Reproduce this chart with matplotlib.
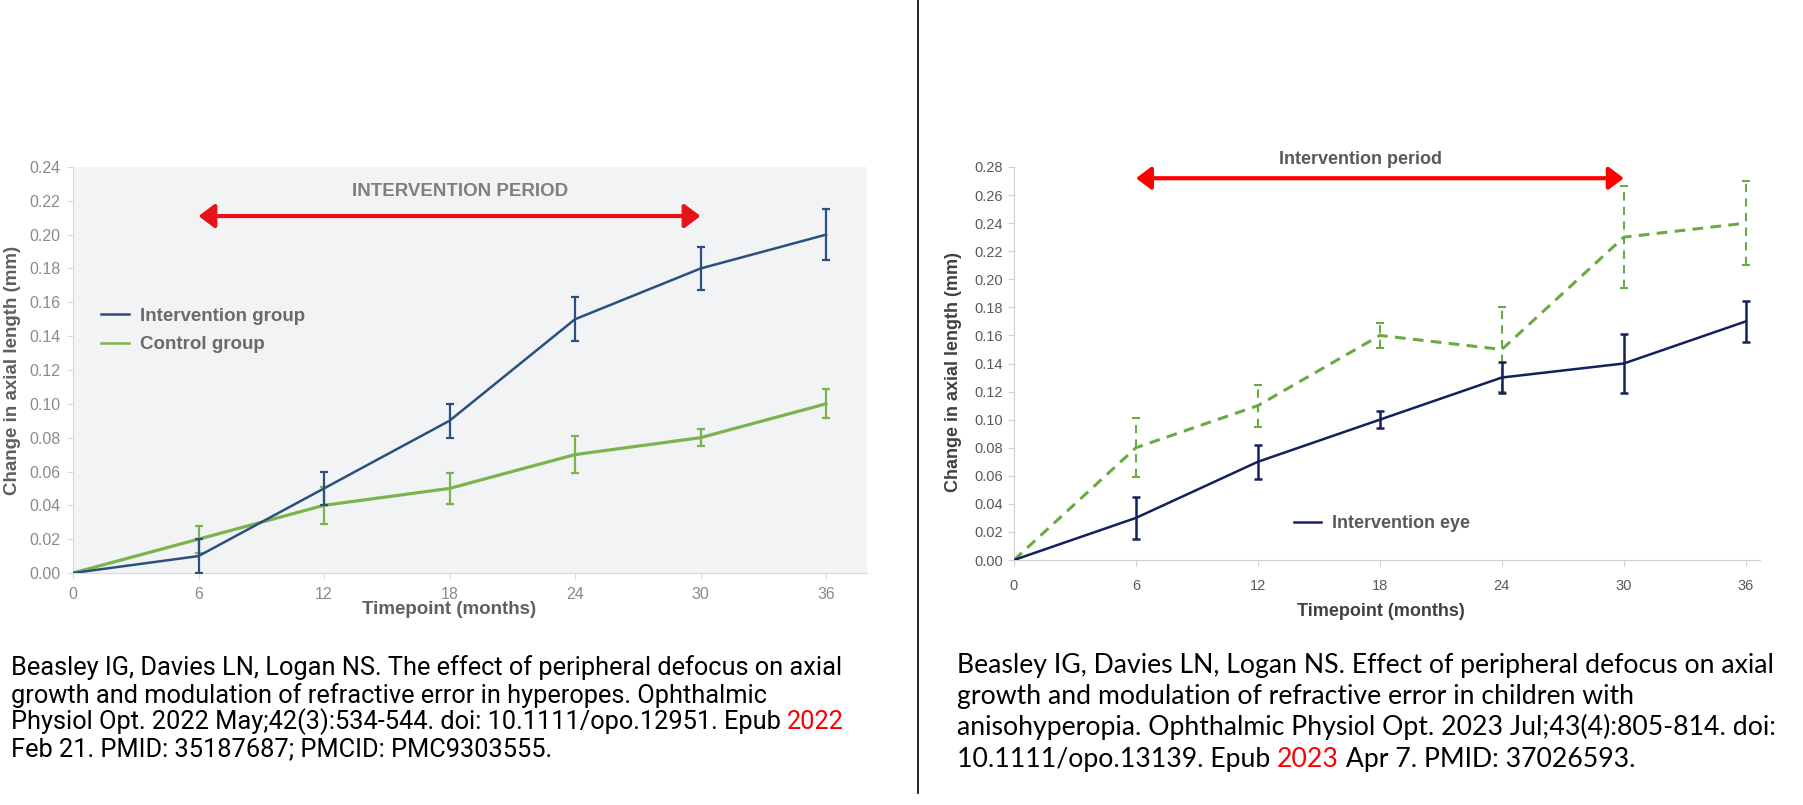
import numpy as np
import matplotlib.pyplot as plt
from matplotlib.lines import Line2D
from matplotlib.ticker import FormatStrFormatter

plt.rcParams['font.family'] = ['Liberation Sans', 'DejaVu Sans']

months = [0, 6, 12, 18, 24, 30, 36]

# hyperopes study (left panel)
hyp_int = [0, 0.01, 0.05, 0.09, 0.15, 0.18, 0.20]
hyp_int_err = [0, 0.01, 0.01, 0.01, 0.013, 0.013, 0.015]
hyp_ctl = [0, 0.02, 0.04, 0.05, 0.07, 0.08, 0.10]
hyp_ctl_err = [0, 0.008, 0.011, 0.009, 0.011, 0.005, 0.0085]

# anisohyperopia study (right panel)
ani_int = [0, 0.03, 0.07, 0.10, 0.13, 0.14, 0.17]
ani_int_err = [0, 0.015, 0.012, 0.006, 0.011, 0.021, 0.0145]
ani_fel = [0, 0.08, 0.11, 0.16, 0.15, 0.23, 0.24]
ani_fel_err = [0, 0.021, 0.015, 0.009, 0.0305, 0.0365, 0.03]

period = (6, 30)

cite_left = [
    [("Beasley IG, Davies LN, Logan NS. The effect of peripheral defocus on axial", 'k')],
    [("growth and modulation of refractive error in hyperopes. Ophthalmic", 'k')],
    [("Physiol Opt. 2022 May;42(3):534-544. doi: 10.1111/opo.12951. Epub ", 'k'), ("2022", 'red')],
    [("Feb 21. PMID: 35187687; PMCID: PMC9303555.", 'k')],
]
cite_right = [
    [("Beasley IG, Davies LN, Logan NS. Effect of peripheral defocus on axial", 'k')],
    [("growth and modulation of refractive error in children with", 'k')],
    [("anisohyperopia. Ophthalmic Physiol Opt. 2023 Jul;43(4):805-814. doi:", 'k')],
    [("10.1111/opo.13139. Epub ", 'k'), ("2023", 'red'), (" Apr 7. PMID: 37026593.", 'k')],
]

W, H = 1803, 805
fig = plt.figure(figsize=(W / 100, H / 100), dpi=100)

def px(x0, y0, x1, y1):
    return [x0 / W, 1 - y1 / H, (x1 - x0) / W, (y1 - y0) / H]

# ---------------- left panel
ax1 = fig.add_axes(px(73, 167, 867, 573))
ax1.set_facecolor('#f2f3f5')
blue = '#2c4f7f'
green = '#7bb34d'
ax1.plot(months, hyp_int, color=blue, lw=1.8, zorder=3)
ax1.errorbar(months[1:], hyp_int[1:], yerr=hyp_int_err[1:], fmt='none',
             ecolor=blue, elinewidth=1.6, capsize=3, capthick=1.6, zorder=3)
ax1.plot(months, hyp_ctl, color=green, lw=2.3, zorder=2)
ax1.errorbar(months[1:], hyp_ctl[1:], yerr=hyp_ctl_err[1:], fmt='none',
             ecolor=green, elinewidth=1.6, capsize=3, capthick=1.6, zorder=2)
ax1.set_xlim(0, 37.96)
ax1.set_ylim(0, 0.24)
ax1.set_xticks(months)
ax1.set_yticks(np.arange(0, 0.241, 0.02))
ax1.yaxis.set_major_formatter(FormatStrFormatter('%.2f'))
for s in ['top', 'right']:
    ax1.spines[s].set_visible(False)
for s in ['left', 'bottom']:
    ax1.spines[s].set_color('#d9d9d9')
ax1.tick_params(colors='#d9d9d9', labelcolor='#8a8a8a', labelsize=11.5, length=4)
ax1.tick_params(axis='y', pad=5)
ax1.tick_params(axis='x', pad=6)
ax1.text(18, -0.0215, 'Timepoint (months)', ha='center', va='center',
         fontsize=13.5, fontweight='bold', color='#5f5f5f')
fig.text(13 / W, 1 - 370 / H, 'Change in axial length (mm)', rotation=90,
         ha='center', va='center', fontsize=13.5, fontweight='bold', color='#5f5f5f')
ax1.text(18.5, 0.2258, 'INTERVENTION PERIOD', ha='center', va='center',
         fontsize=13.5, fontweight='bold', color='#7f7f7f')
ax1.annotate('', xy=(period[1], 0.211), xytext=(period[0], 0.211),
             arrowprops=dict(arrowstyle='<|-|>,head_length=0.6,head_width=0.45',
                             color='#e5141b', lw=3, mutation_scale=16,
                             shrinkA=0, shrinkB=0))
h1 = [Line2D([], [], color=blue, lw=1.8), Line2D([], [], color=green, lw=1.8)]
ax1.legend(h1, ['Intervention group', 'Control group'], loc='center left',
           bbox_to_anchor=(0.035, 0.597), frameon=False, handlelength=1.5,
           handletextpad=0.6, labelspacing=0.6, borderaxespad=0, borderpad=0,
           prop=dict(size=13.5, weight='bold'), labelcolor='#6a6a6a')

# ---------------- right panel
ax2 = fig.add_axes(px(1014, 167, 1760, 560))
navy = '#12215c'
green2 = '#6aaa45'
ax2.plot(months, ani_int, color=navy, lw=1.8, zorder=3)
ax2.errorbar(months[1:], ani_int[1:], yerr=ani_int_err[1:], fmt='none',
             ecolor=navy, elinewidth=1.8, capsize=3, capthick=1.8, zorder=3)
ax2.plot(months, ani_fel, color=green2, lw=2.2, dashes=(3.5, 2.4), zorder=2)
eb = ax2.errorbar(months[1:], ani_fel[1:], yerr=ani_fel_err[1:], fmt='none',
                  ecolor=green2, elinewidth=1.5, capsize=3, capthick=1.5, zorder=2)
eb[2][0].set_linestyle((0, (4, 3)))
ax2.set_xlim(0, 36.7)
ax2.set_ylim(0, 0.28)
ax2.set_xticks(months)
ax2.set_yticks(np.arange(0, 0.281, 0.02))
ax2.yaxis.set_major_formatter(FormatStrFormatter('%.2f'))
for s in ['top', 'right']:
    ax2.spines[s].set_visible(False)
for s in ['left', 'bottom']:
    ax2.spines[s].set_color('#d0d0d0')
ax2.tick_params(colors='#d0d0d0', labelcolor='#595959', labelsize=10.5, length=4)
ax2.tick_params(axis='y', pad=4)
ax2.tick_params(axis='x', pad=10)
ax2.text(0.492, -0.13, 'Timepoint (months)', transform=ax2.transAxes,
         ha='center', va='center', fontsize=13, fontweight='bold', color='#404040')
fig.text(953 / W, 1 - 372 / H, 'Change in axial length (mm)', rotation=90,
         ha='center', va='center', fontsize=13, fontweight='bold', color='#404040')
ax2.text(17.07, 0.285, 'Intervention period', ha='center', va='center',
         fontsize=13, fontweight='bold', color='#595959', clip_on=False)
ax2.annotate('', xy=(period[1], 0.272), xytext=(period[0], 0.272),
             arrowprops=dict(arrowstyle='<|-|>,head_length=0.6,head_width=0.45',
                             color='#ff0000', lw=3, mutation_scale=15,
                             shrinkA=0, shrinkB=0), annotation_clip=False)
ax2.legend([Line2D([], [], color=navy, lw=1.8)], ['Intervention eye'],
           loc='center left', bbox_to_anchor=(0.375, 0.092), frameon=False,
           handlelength=1.5, handletextpad=0.6, borderaxespad=0, borderpad=0,
           prop=dict(size=13, weight='bold'), labelcolor='#595959')

# divider
fig.add_artist(Line2D([918 / W, 918 / W], [1, 1 - 793 / H], color='black', lw=1.2))

# citations
renderer = fig.canvas.get_renderer()

def cite(x0, ys, lines, family, size):
    for y, parts in zip(ys, lines):
        x = x0
        for txt, col in parts:
            t = fig.text(x / W, 1 - y / H, txt, color=col, fontsize=size,
                         family=family, va='center', ha='left')
            x += t.get_window_extent(renderer).width

cite(11, [668, 696, 722, 749], cite_left, ['Roboto', 'DejaVu Sans'], 18.3)
cite(957, [665, 696, 727, 759], cite_right, ['Lato', 'DejaVu Sans'], 19.2)

fig.savefig('out.png', dpi=100)
